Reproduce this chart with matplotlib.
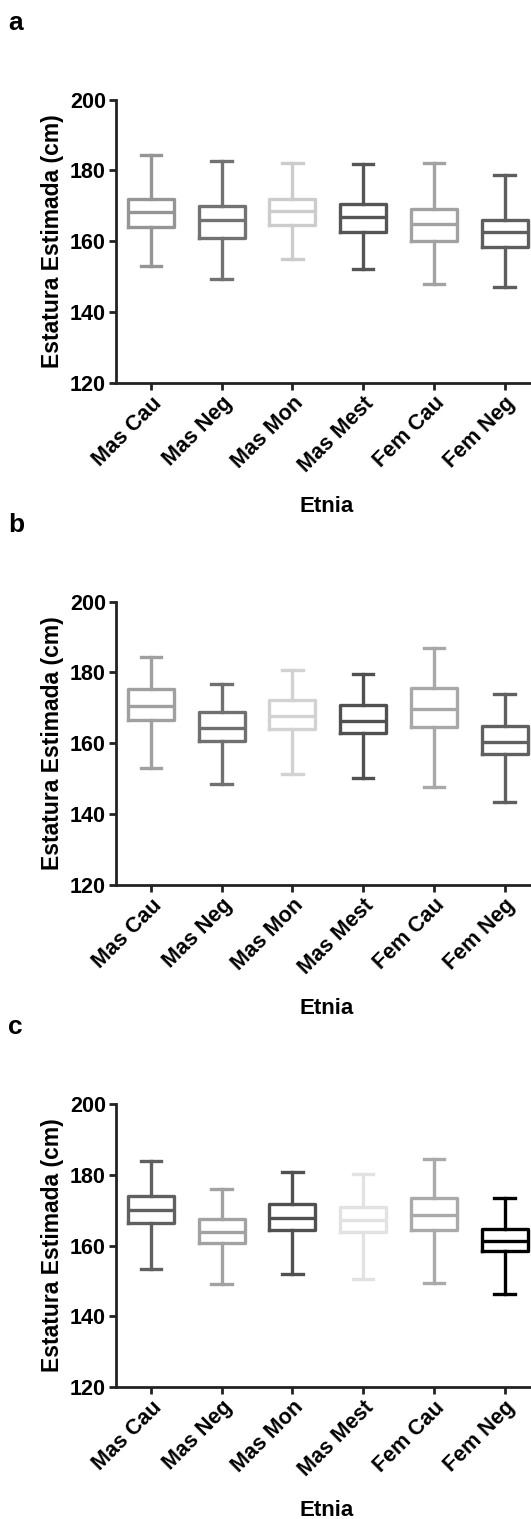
import matplotlib
matplotlib.use("Agg")
import matplotlib.pyplot as plt

plt.rcParams['font.family'] = ['Liberation Sans', 'DejaVu Sans']
plt.rcParams['font.weight'] = 'bold'

etnias = ["Mas Cau", "Mas Neg", "Mas Mon", "Mas Mest", "Fem Cau", "Fem Neg"]

# valores: [min, Q1, mediana, Q3, max]
a_min = [152.9, 149.4, 155.0, 152.2, 147.8, 147.1]
a_q1 = [163.9, 160.9, 164.5, 162.5, 160.1, 158.4]
a_med = [168.3, 165.9, 168.5, 166.9, 164.9, 162.6]
a_q3 = [172.0, 169.9, 171.8, 170.4, 169.1, 166.1]
a_max = [184.3, 182.6, 182.2, 181.9, 182.2, 178.6]
a_col = ["#959595", "#727272", "#cccccc", "#555555", "#a2a2a2", "#5e5e5e"]

b_min = [152.9, 148.5, 151.2, 150.1, 147.6, 143.5]
b_q1 = [166.6, 160.5, 164.0, 162.8, 164.7, 157.0]
b_med = [170.4, 164.2, 167.7, 166.4, 169.7, 160.3]
b_q3 = [175.3, 168.7, 172.2, 170.8, 175.5, 165.0]
b_max = [184.3, 176.8, 180.7, 179.5, 186.8, 173.8]
b_col = ["#a0a0a0", "#707070", "#d2d2d2", "#505050", "#a8a8a8", "#606060"]

c_min = [153.3, 149.1, 152.1, 150.7, 149.5, 146.3]
c_q1 = [166.5, 160.8, 164.3, 163.8, 164.5, 158.4]
c_med = [170.0, 163.8, 167.9, 167.3, 168.7, 161.3]
c_q3 = [174.1, 167.4, 171.6, 170.9, 173.4, 164.6]
c_max = [183.8, 175.9, 180.7, 180.1, 184.4, 173.4]
c_col = ["#606060", "#a2a2a2", "#505050", "#e2e2e2", "#aaaaaa", "#000000"]

paneles = [
    ("a", a_min, a_q1, a_med, a_q3, a_max, a_col),
    ("b", b_min, b_q1, b_med, b_q3, b_max, b_col),
    ("c", c_min, c_q1, c_med, c_q3, c_max, c_col),
]

# bordes inferiores de los ejes en pixeles (desde arriba)
H = 1519.0
bottom_px = [383.0, 885.0, 1387.3]
alto_px = 283.5
letra_px = [23.5, 525.0, 1027.0]
etnia_px = [507.0, 1009.0, 1510.0]
left = 115.6 / 531
width = 566.0 / 531

fig = plt.figure(figsize=(5.31, 15.19), dpi=100)

for k, (letra, mn, q1, med, q3, mx, col) in enumerate(paneles):
    ax = fig.add_axes([left, 1 - bottom_px[k] / H, width, alto_px / H])
    for i in range(len(etnias)):
        st = [dict(whislo=mn[i], q1=q1[i], med=med[i], q3=q3[i],
                   whishi=mx[i], fliers=[])]
        lp = dict(color=col[i], linewidth=2.4)
        ax.bxp(st, positions=[i + 1], widths=0.65, capwidths=0.29,
               showfliers=False, boxprops=lp, whiskerprops=lp,
               capprops=lp, medianprops=lp)
    ax.set_xlim(0.5, 8.5)
    ax.set_ylim(120, 200)
    ax.set_yticks([120, 140, 160, 180, 200])
    ax.set_xticks(range(1, len(etnias) + 1))
    ax.set_xticklabels(etnias, rotation=45, ha='right', va='top',
                       rotation_mode='anchor', fontsize=15.5, fontweight='bold')
    for t in ax.get_yticklabels():
        t.set_fontsize(15.5)
        t.set_fontweight('bold')
    ax.spines['top'].set_visible(False)
    ax.spines['right'].set_visible(False)
    ax.spines['left'].set_linewidth(2.0)
    ax.spines['bottom'].set_linewidth(2.0)
    ax.spines['left'].set_color('#222222')
    ax.spines['bottom'].set_color('#222222')
    ax.tick_params(axis='both', direction='out', length=5, width=2.0,
                   color='#222222', pad=2)
    ax.set_ylabel("Estatura Estimada (cm)", fontsize=16.5, fontweight='bold',
                  labelpad=4)
    ax.set_xlabel("Etnia", fontsize=16, fontweight='bold')
    ax.xaxis.set_label_coords(327 / 531, 1 - etnia_px[k] / H,
                              transform=fig.transFigure)
    ax.xaxis.label.set_va('center')
    fig.text(0.016, 1 - letra_px[k] / H, letra, fontsize=19,
             fontweight='bold', va='center', ha='left')

fig.savefig("out.png", dpi=100)
